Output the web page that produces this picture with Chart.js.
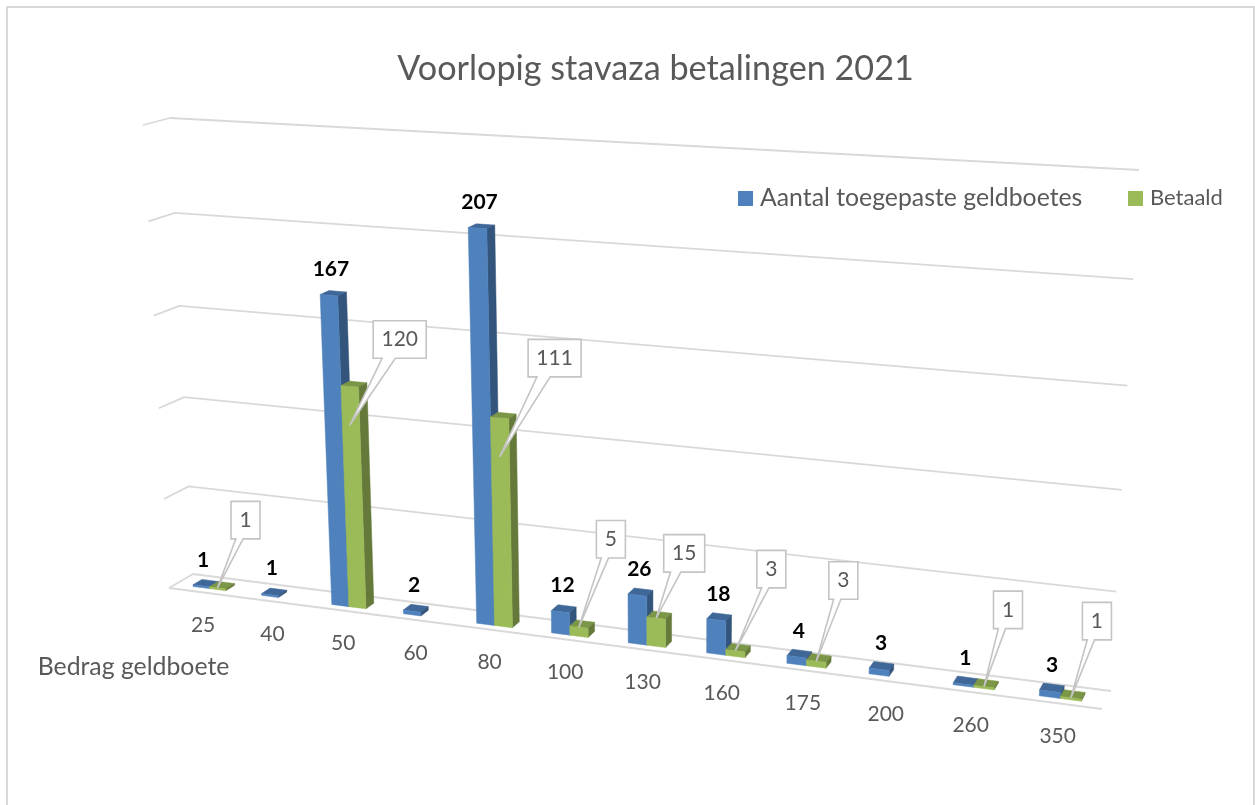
<!DOCTYPE html>
<html lang="nl">
<head>
<meta charset="utf-8">
<title>Voorlopig stavaza betalingen 2021</title>
<script src="https://cdn.jsdelivr.net/npm/chart.js@4/dist/chart.umd.js"></script>
<style>html,body{margin:0;padding:0;background:#fff}canvas{display:block}</style>
</head>
<body>
<canvas id="c" width="1255" height="805"></canvas>
<script>
// ---- data ----
const categories = ['25','40','50','60','80','100','130','160','175','200','260','350'];
const toegepast  = [1,1,167,2,207,12,26,18,4,3,1,3];
const betaald    = [1,null,120,null,111,5,15,3,3,null,1,1];
const chartTitle = 'Voorlopig stavaza betalingen 2021';
const xAxisTitle = 'Bedrag geldboete';
const seriesNames = ['Aantal toegepaste geldboetes','Betaald'];
const valueMax = 250, valueStep = 50;

// ---- styles ----
const BLUE='#4F81BD', GREEN='#9BBB59', TEXT='#595959', GRID='#d9d9d9', FONT='Lato, Carlito, sans-serif';
// callout placement per category, relative to the bar top: [dx, dy(box bottom), drop of tip]
const calloutOffsets = {0:[28,-49,0],2:[50,-67,39],4:[55,-80,39],5:[32,-69,0],6:[28,-46,0],7:[36,-63,0],8:[27,-62,0],10:[24,-58,0],11:[26,-58,0]};

// ---- 3D projection of the chart's own plot area (u,v in 0..1 from scales; w: 0 front, 1 back) ----
const BL=[193,574], BR=[1111,691], TR=[1139,170], TL=[170,118];
const OFF_BL=[-24,14], OFF_TL=[-27,7], OFF_BR=[-9,18], OFF_TR=[-12,11];
const H=(()=>{
  const [x0,y0]=BL,[x1,y1]=BR,[x2,y2]=TR,[x3,y3]=TL;
  const dx1=x1-x2,dx2=x3-x2,sx=x0-x1+x2-x3,dy1=y1-y2,dy2=y3-y2,sy=y0-y1+y2-y3;
  const den=dx1*dy2-dx2*dy1,g=(sx*dy2-dx2*sy)/den,h=(dx1*sy-sx*dy1)/den;
  return {a:x1-x0+g*x1,b:x3-x0+h*x3,c:x0,d:y1-y0+g*y1,e:y3-y0+h*y3,f:y0,g,h};
})();
function project3(u,v,w){
  const q=H.g*u+H.h*v+1;
  const X=(H.a*u+H.b*v+H.c)/q, Y=(H.d*u+H.e*v+H.f)/q;
  const k=1-w;
  const ox=(OFF_BL[0]*(1-u)+OFF_BR[0]*u)*(1-v)+(OFF_TL[0]*(1-u)+OFF_TR[0]*u)*v;
  const oy=(OFF_BL[1]*(1-u)+OFF_BR[1]*u)*(1-v)+(OFF_TL[1]*(1-u)+OFF_TR[1]*u)*v;
  return [X+k*ox,Y+k*oy];
}
let theChart=null;
function uOf(px){const a=theChart.chartArea;return (px-a.left)/a.width;}
function vOf(py){const a=theChart.chartArea;return (a.bottom-py)/a.height;}
const W_FRONT=0.27, W_BACK=0.65;
function shade(hex,f){
  const n=parseInt(hex.slice(1),16);
  return `rgb(${Math.round((n>>16&255)*f)},${Math.round((n>>8&255)*f)},${Math.round((n&255)*f)})`;
}
function poly(ctx,pts,fill){
  ctx.beginPath();pts.forEach((p,i)=>i?ctx.lineTo(p[0],p[1]):ctx.moveTo(p[0],p[1]));ctx.closePath();
  ctx.fillStyle=fill;ctx.fill();ctx.strokeStyle=fill;ctx.lineWidth=0.5;ctx.stroke();
}
// bars keep Chart.js geometry, only their painting goes through the projection
Chart.BarElement.prototype.draw=function(ctx){
  const {x,y,base,width}=this.getProps(['x','y','base','width']);
  const col=this.options.backgroundColor;
  const uL=uOf(x-width/2),uR=uOf(x+width/2),vT=vOf(y),vB=vOf(base);
  const P=project3;
  ctx.save();
  poly(ctx,[P(uL,vT,W_FRONT),P(uR,vT,W_FRONT),P(uR,vT,W_BACK),P(uL,vT,W_BACK)],shade(col,0.8));
  poly(ctx,[P(uR,vB,W_FRONT),P(uR,vB,W_BACK),P(uR,vT,W_BACK),P(uR,vT,W_FRONT)],shade(col,0.65));
  poly(ctx,[P(uL,vB,W_FRONT),P(uR,vB,W_FRONT),P(uR,vT,W_FRONT),P(uL,vT,W_FRONT)],col);
  ctx.restore();
};
function txt(ctx,s,x,y,size,color,bold){
  ctx.font=(bold?'bold ':'')+size+'px '+FONT;ctx.fillStyle=color;ctx.textAlign='center';ctx.textBaseline='middle';ctx.fillText(s,x,y);
}
const scene3d={
  id:'scene3d',
  beforeInit(c){theChart=c;},
  beforeDatasetsDraw(c){
    const ctx=c.ctx,ys=c.scales.y,xs=c.scales.x;
    ctx.save();
    // frame
    ctx.strokeStyle=GRID;ctx.lineWidth=2;
    ctx.beginPath();ctx.moveTo(7,805);ctx.lineTo(7,7);ctx.lineTo(1254,7);ctx.lineTo(1254,805);ctx.stroke();
    // value gridlines on side + back wall
    ctx.lineWidth=1.8;ctx.lineJoin='round';
    ys.ticks.forEach(t=>{
      const v=vOf(ys.getPixelForValue(t.value));
      const a=project3(0,v,0),b=project3(0,v,1),d=project3(1,v,1);
      ctx.beginPath();ctx.moveTo(a[0],a[1]);ctx.lineTo(b[0],b[1]);ctx.lineTo(d[0],d[1]);ctx.stroke();
    });
    // floor front edge
    const f0=project3(0,0,0),f1=project3(1,0,0);
    ctx.beginPath();ctx.moveTo(f0[0],f0[1]);ctx.lineTo(f1[0],f1[1]);ctx.stroke();
    // category labels
    categories.forEach((lab,i)=>{
      const p=project3(uOf(xs.getPixelForValue(i)),0,0);
      txt(ctx,lab,p[0],p[1]+33,21,TEXT);
    });
    txt(ctx,xAxisTitle,133.5,667,24.8,TEXT);
    // legend
    ctx.fillStyle=BLUE;ctx.fillRect(738,191,15,15);
    ctx.fillStyle=GREEN;ctx.fillRect(1128,191,15,15);
    ctx.font='24.8px '+FONT;ctx.fillStyle=TEXT;ctx.textAlign='left';ctx.textBaseline='middle';
    ctx.fillText(c.data.datasets[0].label,760,198);
    ctx.font='22px '+FONT;
    ctx.fillText(c.data.datasets[1].label,1150,198);
    ctx.restore();
  },
  // Chart.js paints datasets last-to-first; the 3D look needs first-to-last
  beforeDatasetDraw(){return false;},
  afterDatasetsDraw(c){
    const ctx=c.ctx;
    [0,1].forEach(i=>c.getDatasetMeta(i).controller.draw());
    ctx.save();
    // bold labels of first series
    c.getDatasetMeta(0).data.forEach((el,i)=>{
      const p=project3(uOf(el.x),vOf(el.y),W_FRONT);
      txt(ctx,String(toegepast[i]),p[0]+2,p[1]-26,21,'#000',true);
    });
    // callouts of second series
    c.getDatasetMeta(1).data.forEach((el,i)=>{
      if(betaald[i]==null)return;
      const [dx,dy,drop]=calloutOffsets[i];
      const p=project3(uOf(el.x),vOf(el.y),W_FRONT);
      const tx=p[0],ty=p[1]+drop;
      const s=String(betaald[i]);
      const w=17+12*s.length,h=37.5;
      const cx=tx+dx,bot=ty+dy,l=cx-w/2,r=cx+w/2,top=bot-h;
      ctx.beginPath();
      ctx.moveTo(l,top);ctx.lineTo(r,top);ctx.lineTo(r,bot);
      ctx.lineTo(l+w*0.4167,bot);ctx.lineTo(tx,ty);ctx.lineTo(l+w*0.1667,bot);
      ctx.lineTo(l,bot);ctx.closePath();
      ctx.fillStyle='#fff';ctx.fill();ctx.strokeStyle='#c4c4c4';ctx.lineWidth=1.6;ctx.lineJoin='miter';ctx.stroke();
      txt(ctx,s,cx,top+h/2,21,TEXT);
    });
    ctx.restore();
  }
};
new Chart(document.getElementById('c'),{
  type:'bar',
  data:{labels:categories,datasets:[
    {label:seriesNames[0],data:toegepast,backgroundColor:BLUE,clip:false},
    {label:seriesNames[1],data:betaald,backgroundColor:GREEN,clip:false}
  ]},
  options:{
    responsive:false,animation:false,
    layout:{padding:{left:56}},
    categoryPercentage:0.48,barPercentage:1,
    scales:{
      x:{display:false,type:'category'},
      y:{display:false,min:0,max:valueMax,ticks:{stepSize:valueStep}}
    },
    plugins:{
      legend:{display:false},
      tooltip:{enabled:false},
      title:{display:true,text:chartTitle,color:TEXT,font:{family:FONT,size:34.2,weight:'normal'},padding:{top:48,bottom:10}}
    }
  },
  plugins:[scene3d]
});
</script>
</body>
</html>
